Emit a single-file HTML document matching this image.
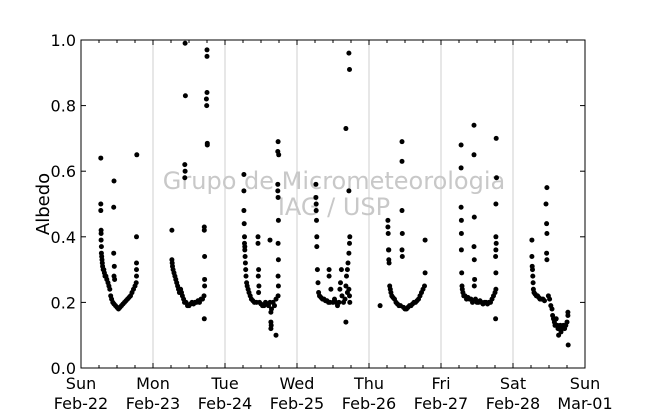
<!DOCTYPE html>
<html><head><meta charset="utf-8"><style>
body{margin:0;background:#fff}
svg{display:block;font-family:"DejaVu Sans","Liberation Sans",sans-serif}
</style></head><body>
<svg id="c" width="650" height="409" viewBox="0 0 650 409"></svg>
<script>
const dayNames=["Sun","Mon","Tue","Wed","Thu","Fri","Sat","Sun"];
const dayDates=["Feb-22","Feb-23","Feb-24","Feb-25","Feb-26","Feb-27","Feb-28","Mar-01"];
const yTicks=[0,0.2,0.4,0.6,0.8,1.0];
const yTickLabels=["0.0","0.2","0.4","0.6","0.8","1.0"];
// per-day [local hour, albedo]
const day0=[[6.6,.64],[6.6,.50],[6.6,.48],[6.7,.42],[6.7,.41],[6.7,.39],[6.8,.37],[6.8,.35],[6.9,.34],[7,.33],[7.1,.32],[7.2,.31],[7.4,.30],[7.6,.30],[7.8,.29],[8,.28],[8.3,.28],[8.6,.27],[9,.26],[9.3,.25],[9.6,.24],[9.9,.22],[10.2,.21],[10.6,.20],[11,.195],[11.5,.19],[12,.185],[12.5,.18],[13,.185],[13.5,.19],[14,.195],[14.5,.20],[15,.205],[15.5,.21],[16,.215],[16.5,.22],[17,.23],[17.5,.24],[18,.25],[18.4,.26],[18.5,.28],[18.5,.30],[18.5,.32],[18.5,.40],[18.6,.65],[11,.57],[10.9,.49],[10.9,.35],[11.1,.31],[11,.28],[11.2,.27]];
const day1=[[6.3,.42],[6.3,.33],[6.4,.32],[6.5,.31],[6.7,.30],[7,.29],[7.3,.28],[7.6,.27],[7.9,.26],[8.2,.25],[8.5,.24],[8.8,.23],[9.2,.24],[9.5,.23],[9.8,.22],[10.2,.21],[10.5,.20],[11,.20],[11.5,.19],[12,.19],[12.5,.195],[13,.20],[13.5,.195],[14,.20],[14.5,.20],[15,.205],[15.5,.20],[16,.21],[16.5,.21],[17,.22],[17.2,.25],[17.2,.27],[17.1,.15],[17.2,.34],[17.1,.42],[17.1,.43],[10.7,.99],[10.8,.83],[10.6,.62],[10.7,.60],[10.6,.58],[18,.97],[18,.95],[17.8,.82],[17.9,.80],[18,.84],[18.1,.68],[18.1,.685]];
const day2=[[6.3,.59],[6.3,.54],[6.3,.48],[6.4,.44],[6.5,.40],[6.5,.38],[6.6,.37],[6.6,.36],[6.7,.34],[6.8,.32],[6.9,.30],[7,.28],[7.2,.26],[7.4,.25],[7.7,.24],[8,.23],[8.4,.22],[8.8,.21],[9.3,.205],[9.8,.20],[10.5,.20],[11,.40],[11,.38],[11.2,.30],[11.1,.28],[11.3,.25],[11.2,.23],[11.5,.20],[12,.195],[12.5,.19],[13,.19],[13.5,.20],[14,.195],[14.5,.19],[15,.20],[15.3,.17],[15.3,.14],[15.4,.13],[15.3,.12],[15.5,.18],[16,.20],[16.5,.19],[17,.10],[15,.39],[17,.21],[17.7,.69],[17.6,.66],[17.9,.65],[17.6,.56],[17.6,.54],[17.7,.52],[17.8,.45],[17.7,.38],[17.8,.33],[17.7,.28],[17.8,.25],[17.7,.22]];
const day3=[[6.3,.56],[6.3,.52],[6.4,.50],[6.4,.48],[6.5,.45],[6.6,.40],[6.6,.37],[6.8,.30],[7,.26],[7.2,.23],[7.5,.22],[8,.215],[8.5,.21],[9,.21],[9.5,.205],[10,.205],[10.5,.20],[11,.20],[10.7,.30],[10.7,.28],[11.3,.24],[12,.20],[12.5,.21],[13,.20],[13.5,.19],[14,.20],[14.3,.24],[14.5,.26],[14.8,.30],[15,.22],[15.5,.20],[16,.21],[16.3,.25],[16.5,.28],[16.8,.30],[17,.32],[17.3,.35],[17.5,.38],[17.6,.40],[17.3,.24],[17.5,.22],[17.6,.20],[16.3,.73],[16.3,.14],[17.3,.96],[17.5,.91],[17.3,.54],[16.8,.23]];
const day4=[[3.7,.19],[6.3,.45],[6.3,.43],[6.4,.41],[6.5,.36],[6.6,.36],[6.6,.33],[6.7,.32],[6.9,.25],[7.1,.24],[7.3,.23],[7.6,.22],[8,.215],[8.5,.21],[9,.20],[9.5,.195],[10,.19],[10.5,.19],[11,.69],[11,.63],[11,.48],[11.1,.41],[11,.36],[11.1,.34],[11.5,.185],[12,.18],[12.5,.18],[13,.185],[13.5,.19],[14,.19],[14.5,.195],[15,.20],[15.5,.20],[16,.205],[16.5,.21],[17,.22],[17.5,.23],[18,.24],[18.5,.25],[18.7,.29],[18.7,.39]];
const day5=[[6.7,.68],[6.7,.61],[6.7,.49],[6.8,.45],[6.8,.41],[6.8,.36],[6.9,.29],[7,.25],[7.1,.24],[7.3,.23],[7.6,.22],[8,.22],[8.5,.21],[9,.215],[9.5,.21],[10,.21],[10.5,.20],[11,.74],[11,.65],[11.1,.46],[11,.37],[11.1,.33],[11.2,.27],[11.1,.25],[11.5,.21],[12,.20],[12.5,.20],[13,.205],[13.5,.20],[14,.195],[14.5,.20],[15,.20],[15.5,.195],[16,.20],[16.5,.20],[17,.21],[17.5,.22],[18,.23],[18.3,.24],[18.4,.70],[18.5,.58],[18.3,.50],[18.3,.40],[18.4,.38],[18.3,.36],[18.2,.34],[18.3,.29],[18.2,.15]];
const day6=[[6.3,.39],[6.3,.34],[6.4,.31],[6.5,.30],[6.6,.28],[6.7,.26],[6.8,.24],[7,.23],[7.4,.225],[7.8,.22],[8.2,.22],[8.6,.215],[9,.21],[9.5,.21],[10,.21],[10.5,.205],[11.3,.55],[11,.50],[11.2,.44],[11.3,.41],[11.2,.35],[11.3,.33],[11.8,.22],[12.2,.21],[12.6,.19],[13,.18],[13.2,.16],[13.5,.15],[13.8,.14],[14,.13],[14.4,.15],[14.8,.13],[15,.12],[15.2,.10],[15.5,.12],[15.8,.13],[16,.11],[16.4,.12],[16.8,.13],[17.2,.12],[17.6,.13],[18,.14],[18.3,.17],[18.3,.16],[18.4,.07]];
const days=[day0,day1,day2,day3,day4,day5,day6];

const NS="http://www.w3.org/2000/svg",svg=document.getElementById('c');
const X0=81,X1=585,Y0=368,Y1=40;
const xs=h=>X0+h*(X1-X0)/168;
const ys=v=>Y0-v*(Y0-Y1);
function el(t,a,p){const e=document.createElementNS(NS,t);for(const k in a)e.setAttribute(k,a[k]);(p||svg).appendChild(e);return e;}

for(let d=1;d<7;d++){const g=el('line',{x1:xs(d*24),x2:xs(d*24),y1:Y1,y2:Y0,stroke:'#cfcfcf','stroke-width':1});

}
const w1=el('text',{x:334,y:189,'text-anchor':'middle','font-size':24,fill:'#c8c8c8'});w1.textContent="Grupo de Micrometeorologia";


const w2=el('text',{x:334,y:215,'text-anchor':'middle','font-size':24,fill:'#c8c8c8'});w2.textContent="IAG / USP";


const pg=el('g',{});


days.forEach((pts,d)=>pts.forEach(p=>{const c=el('circle',{cx:xs(d*24+p[0]),cy:ys(p[1]),r:2.5,fill:'#000'},pg);

}));
const fr=el('rect',{x:X0,y:Y1,width:X1-X0,height:Y0-Y1,fill:'none',stroke:'#000','stroke-width':1});


yTicks.forEach((v,i)=>{const y=ys(v);
el('line',{x1:X0,x2:X0+5,y1:y,y2:y,stroke:'#000'});el('line',{x1:X1,x2:X1-5,y1:y,y2:y,stroke:'#000'});
const t=el('text',{x:X0-5,y:y+6,'text-anchor':'end','font-size':16});t.textContent=yTickLabels[i];

});
for(let h=0;h<=168;h+=6){const x=xs(h),L=h%24==0?5:3;
el('line',{x1:x,x2:x,y1:Y0,y2:Y0-L,stroke:'#000'});el('line',{x1:x,x2:x,y1:Y1,y2:Y1+L,stroke:'#000'});}
dayNames.forEach((n,i)=>{const x=xs(i*24);
const a=el('text',{x:x,y:389,'text-anchor':'middle','font-size':16});a.textContent=n;


const b=el('text',{x:x,y:409,'text-anchor':'middle','font-size':16});b.textContent=dayDates[i];

});
const yl=el('text',{x:0,y:0,'text-anchor':'middle','font-size':18,transform:'translate(49,204) rotate(-90)'});yl.textContent="Albedo";


</script>
</body></html>
